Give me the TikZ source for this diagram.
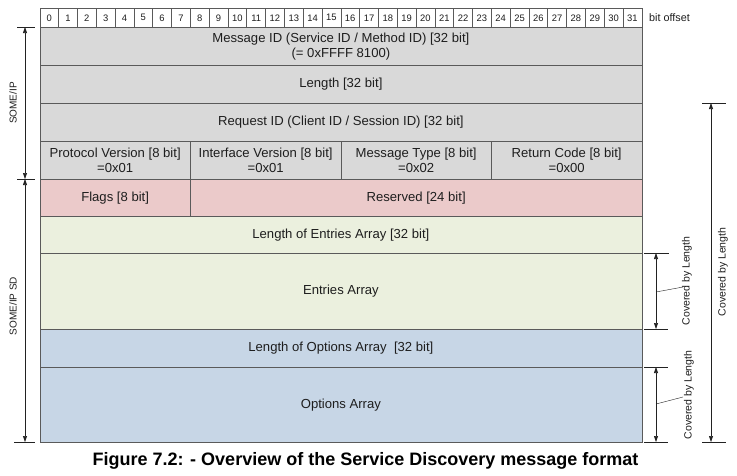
\documentclass[tikz,border=0pt]{standalone}
\usepackage{fontspec}
\setmainfont{Liberation Sans}
\usetikzlibrary{arrows.meta}
\definecolor{cgray}{HTML}{D9D9D9}
\definecolor{cpink}{HTML}{EBCACA}
\definecolor{cgreen}{HTML}{EBF0DE}
\definecolor{cblue}{HTML}{C7D6E6}
\definecolor{bordercol}{HTML}{5A5A5A}
\definecolor{textcol}{HTML}{1E1E1E}
\definecolor{arrowcol}{HTML}{222222}
\begin{document}
\begin{tikzpicture}[x=1pt,y=-1pt,
  cellbox/.style={draw=bordercol, line width=0.8pt, anchor=north west, inner sep=0pt, align=center, text=textcol, font=\fontsize{13.1}{15.5}\selectfont},
  bitbox/.style={draw=bordercol, line width=0.6pt, anchor=north west, minimum width=18.8125pt, minimum height=19pt, inner sep=0pt, text=textcol, font=\fontsize{9.4}{10}\selectfont},
  dim/.style={draw=arrowcol, line width=0.6pt, {Triangle[length=6pt,width=4pt]}-{Triangle[length=6pt,width=4pt]}},
  tick/.style={draw=arrowcol, line width=0.6pt},
  sidelabel/.style={rotate=90, text=textcol, font=\fontsize{10}{12}\selectfont},
  covlabel/.style={rotate=90, text=textcol, font=\fontsize{10.5}{12}\selectfont}]
\useasboundingbox[fill=white] (0,0) rectangle (737,475);

% bit offset header
\foreach \i in {0,...,31}
  \node[bitbox] (b\i) at ({39.5+\i*18.8125},8) {\i};
\node[anchor=west, inner sep=0pt, text=textcol, font=\fontsize{10.8}{12}\selectfont] (bitoff) at (649,17.5) {bit offset};

% SOME/IP header
\node[cellbox, fill=cgray, minimum width=602pt, minimum height=38pt] (msgid) at (39.5,27) {Message ID (Service ID / Method ID) [32 bit]\\(= 0xFFFF 8100)};
\node[cellbox, fill=cgray, minimum width=602pt, minimum height=38pt] (len) at (39.5,65) {Length [32 bit]};
\node[cellbox, fill=cgray, minimum width=602pt, minimum height=38pt] (req) at (39.5,103) {Request ID (Client ID / Session ID) [32 bit]};
\node[cellbox, fill=cgray, minimum width=150.5pt, minimum height=38pt] (proto) at (39.5,141) {Protocol Version [8 bit]\\=0x01};
\node[cellbox, fill=cgray, minimum width=150.5pt, minimum height=38pt] (iface) at (190,141) {Interface Version [8 bit]\\=0x01};
\node[cellbox, fill=cgray, minimum width=150.5pt, minimum height=38pt] (mtype) at (340.5,141) {Message Type [8 bit]\\=0x02};
\node[cellbox, fill=cgray, minimum width=150.5pt, minimum height=38pt] (rcode) at (491,141) {Return Code [8 bit]\\=0x00};

% SOME/IP SD
\node[cellbox, fill=cpink, minimum width=150.5pt, minimum height=37pt] (flags) at (39.5,179) {Flags [8 bit]};
\node[cellbox, fill=cpink, minimum width=451.5pt, minimum height=37pt] (resv) at (190,179) {Reserved [24 bit]};
\node[cellbox, fill=cgreen, minimum width=602pt, minimum height=37pt] (lenent) at (39.5,216) {Length of Entries Array [32 bit]};
\node[cellbox, fill=cgreen, minimum width=602pt, minimum height=76pt] (ent) at (39.5,253) {Entries Array};
\node[cellbox, fill=cblue, minimum width=602pt, minimum height=38pt] (lenopt) at (39.5,329) {Length of Options Array\ \ [32 bit]};
\node[cellbox, fill=cblue, minimum width=602pt, minimum height=75pt] (opt) at (39.5,367) {Options Array};

% left dimension arrows
\coordinate (lt) at (25,27);
\coordinate (lm) at (25,179);
\coordinate (lb) at (25,442);
\draw[tick] (17,27) -- (35,27);
\draw[tick] (17,179) -- (35,179);
\draw[tick] (14,442) -- (35,442);
\draw[dim] (lt) -- (lm);
\draw[dim] (lm) -- (lb);
\node[sidelabel] (someip) at (13,103) {SOME/IP};
\node[sidelabel] (someipsd) at (13,306) {SOME/IP SD};

% right: covered by length (SOME/IP length)
\coordinate (rt) at (711,103);
\coordinate (rb) at (711,442);
\draw[tick] (702,103) -- (726,103);
\draw[tick] (702,442) -- (726,442);
\draw[dim] (rt) -- (rb);
\node[covlabel] (cov1) at (723,272) {Covered by Length};

% entries array length
\coordinate (et) at (656,253);
\coordinate (eb) at (656,329);
\draw[tick] (644,253) -- (669,253);
\draw[tick] (644,329) -- (668,329);
\draw[dim] (et) -- (eb);
\node[covlabel] (cov2) at (687,281) {Covered by Length};
\coordinate (el) at (656,292);
\coordinate (ell) at (683,287);
\draw[tick, line width=0.4pt] (el) -- (ell);

% options array length
\coordinate (ot) at (656,367);
\coordinate (ob) at (656,442);
\draw[tick] (644,367) -- (668,367);
\draw[tick] (644,442) -- (668,442);
\draw[dim] (ot) -- (ob);
\node[covlabel] (cov3) at (689,395) {Covered by Length};
\coordinate (ol) at (656,404);
\coordinate (oll) at (683,397);
\draw[tick, line width=0.4pt] (ol) -- (oll);

% caption
\node[font=\bfseries\fontsize{18}{20}\selectfont, text=black] (cap) at (365.5,461) {Figure 7.2: - Overview of the Service Discovery message format};
\end{tikzpicture}
\end{document}
